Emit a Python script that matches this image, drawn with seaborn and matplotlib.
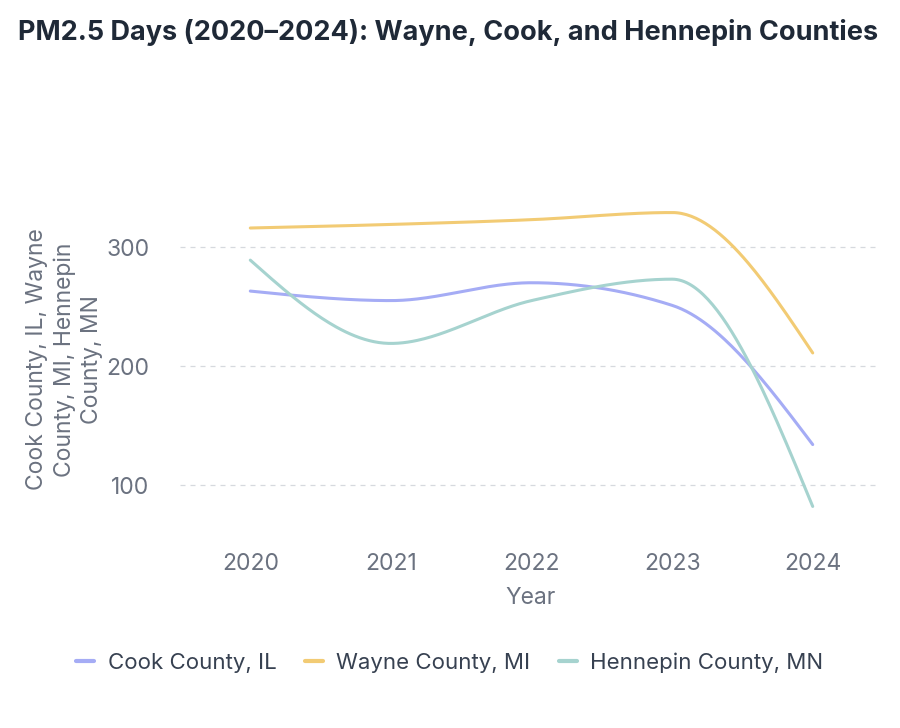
import numpy as np
import pandas as pd
import matplotlib
matplotlib.use('Agg')
import matplotlib.pyplot as plt
import seaborn as sns

# data
years = [2020, 2021, 2022, 2023, 2024]
cook = [263, 255, 270, 251, 134]
wayne = [316, 319, 323, 329, 211]
hennepin = [289, 219, 255, 273, 82]

counties = ['Cook County, IL', 'Wayne County, MI', 'Hennepin County, MN']
colors = ['#a5acf5', '#f2cb74', '#a6d3cf']


# monotone cubic curve (same idea as d3 curveMonotoneX), only for drawing
def monotone_curve(x, y, n=60):
    x = np.asarray(x, float)
    y = np.asarray(y, float)
    h = np.diff(x)
    s = np.diff(y) / h
    t = np.zeros(len(x))
    for i in range(1, len(x) - 1):
        p = (s[i - 1] * h[i] + s[i] * h[i - 1]) / (h[i - 1] + h[i])
        t[i] = (np.sign(s[i - 1]) + np.sign(s[i])) * min(abs(s[i - 1]), abs(s[i]), 0.5 * abs(p))
    t[0] = (3 * s[0] - t[1]) / 2
    t[-1] = (3 * s[-1] - t[-2]) / 2
    xs, ys = [], []
    for i in range(len(x) - 1):
        u = np.linspace(0, 1, n)
        h00 = 2 * u**3 - 3 * u**2 + 1
        h10 = u**3 - 2 * u**2 + u
        h01 = -2 * u**3 + 3 * u**2
        h11 = u**3 - u**2
        xs.extend(x[i] + u * h[i])
        ys.extend(h00 * y[i] + h10 * h[i] * t[i] + h01 * y[i + 1] + h11 * h[i] * t[i + 1])
    return np.array(xs), np.array(ys)


rows = []
for name, vals in zip(counties, [cook, wayne, hennepin]):
    cx, cy = monotone_curve(years, vals)
    for a, b in zip(cx, cy):
        rows.append({'Year': a, 'value': b, 'county': name})
df = pd.DataFrame(rows)

sns.set_theme(style='white')
plt.rcParams['font.family'] = ['Inter', 'DejaVu Sans']

fig = plt.figure(figsize=[9, 7.28], dpi=100)
ax = fig.add_axes([0.2, 0.2684, 0.778, 0.523])

sns.lineplot(data=df, x='Year', y='value', hue='county', hue_order=counties,
             palette=colors, linewidth=2.2, sort=False, estimator=None, ax=ax)

ax.set_xlim(2019.5, 2024.48)
ax.set_ylim(60, 380)
ax.set_xticks(years)
ax.set_yticks([100, 200, 300])
ax.tick_params(axis='both', length=0, labelsize=16.5, labelcolor='#6b7280')
ax.tick_params(axis='x', pad=15)
ax.tick_params(axis='y', pad=22)
ax.grid(axis='y', color='#d6d9de', linestyle=(0, (4, 4)), linewidth=0.9)
ax.grid(axis='x', visible=False)
for sp in ax.spines.values():
    sp.set_visible(False)

ax.set_xlabel('Year', fontsize=16.5, color='#6b7280', labelpad=8)
ax.set_ylabel('Cook County, IL, Wayne\nCounty, MI, Hennepin\nCounty, MN',
              fontsize=16.5, color='#6b7280', linespacing=1.3)
ax.yaxis.set_label_coords(-0.11, 0.455)

fig.text(0.02, 0.955, 'PM2.5 Days (2020\u20132024): Wayne, Cook, and Hennepin Counties',
         fontsize=19.5, fontweight='bold', color='#1f2937', ha='left', va='center')

handles, labels = ax.get_legend_handles_labels()
ax.get_legend().remove()
for hd in handles:
    hd.set_linewidth(3)
fig.legend(handles, labels, loc='center', bbox_to_anchor=(0.5, 0.09), ncol=3,
           frameon=False, fontsize=16, handlelength=0.8, columnspacing=1.3,
           handletextpad=0.6, labelcolor='#374151')

fig.savefig('out.png', dpi=100)
